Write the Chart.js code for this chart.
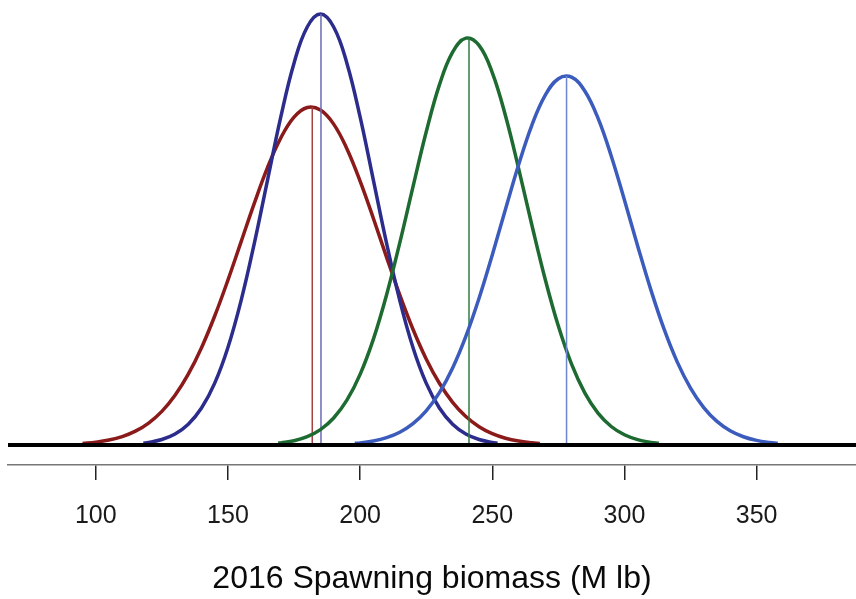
<!DOCTYPE html>
<html>
<head>
<meta charset="utf-8">
<script src="https://cdn.jsdelivr.net/npm/chart.js@4.4.1/dist/chart.umd.min.js"></script>
<style>
  html, body { margin: 0; padding: 0; background: #fff; }
  #wrap { width: 856px; height: 599px; position: relative; }
</style>
</head>
<body>
<div id="wrap"><canvas id="chart"></canvas></div>
<script>
// biomass (M lb) and density (x1000)
const redX = [95, 100, 105, 110, 115, 120, 125, 130, 135, 140, 145, 150, 155, 160, 165, 170, 175, 180, 185, 190, 195, 200, 205, 210, 215, 220, 225, 230, 235, 240, 245, 250, 255, 260, 265, 268];
const redY = [0.069, 0.127, 0.224, 0.383, 0.630, 1.001, 1.533, 2.267, 3.229, 4.437, 5.882, 7.520, 9.272, 11.03, 12.66, 14.00, 14.95, 15.39, 15.27, 14.63, 13.51, 12.03, 10.34, 8.566, 6.847, 5.278, 3.924, 2.814, 1.946, 1.299, 0.835, 0.518, 0.310, 0.179, 0.100, 0.069];

const navyX = [118, 120, 125, 130, 135, 140, 145, 150, 155, 160, 165, 170, 175, 180, 185, 190, 195, 200, 205, 210, 215, 220, 225, 230, 235, 240, 245, 250, 252];
const navyY = [0.085, 0.117, 0.249, 0.501, 0.946, 1.684, 2.820, 4.447, 6.595, 9.206, 12.09, 14.96, 17.41, 19.06, 19.65, 19.06, 17.41, 14.96, 12.09, 9.206, 6.595, 4.447, 2.820, 1.684, 0.946, 0.501, 0.249, 0.117, 0.085];

const greenX = [169, 170, 175, 180, 185, 190, 195, 200, 205, 210, 215, 220, 225, 230, 235, 240, 245, 250, 255, 260, 265, 270, 275, 280, 285, 290, 295, 300, 305, 310, 313];
const greenY = [0.082, 0.095, 0.195, 0.380, 0.701, 1.229, 2.042, 3.222, 4.816, 6.841, 9.213, 11.77, 14.27, 16.42, 17.91, 18.55, 18.22, 16.98, 15.01, 12.59, 10.02, 7.569, 5.421, 3.684, 2.376, 1.453, 0.844, 0.465, 0.243, 0.120, 0.077];

const blueX = [198, 200, 205, 210, 215, 220, 225, 230, 235, 240, 245, 250, 255, 260, 265, 270, 275, 280, 285, 290, 295, 300, 305, 310, 315, 320, 325, 330, 335, 340, 345, 350, 355, 358];
const blueY = [0.075, 0.097, 0.185, 0.336, 0.584, 0.975, 1.561, 2.391, 3.516, 4.955, 6.693, 8.667, 10.75, 12.79, 14.59, 15.94, 16.70, 16.77, 16.14, 14.90, 13.18, 11.17, 9.078, 7.072, 5.279, 3.778, 2.593, 1.705, 1.075, 0.649, 0.376, 0.209, 0.111, 0.075];

// medians (vertical lines) and the height they reach
const medianX = [181.9, 185.2, 241.2, 278.1];
const medianTop = [15.41, 19.65, 18.56, 16.83];

const tickVals = [100, 150, 200, 250, 300, 350];
const xTitle = "2016 Spawning biomass (M lb)";
const xMin = 66.8, xMax = 387.6;

const curveColors = ["#8b1a1a", "#2c2c8c", "#1d6b30", "#3b5cbc"];
const medianColors = ["#a84040", "#6a6ab4", "#2f7d42", "#6d86d0"];

const fontFam = "'Liberation Sans', Arial, sans-serif";

function pts(xs, ys) {
  return xs.map((x, i) => ({ x: x, y: ys[i] }));
}

function curveSet(xs, ys, i) {
  return {
    data: pts(xs, ys),
    borderColor: curveColors[i],
    borderWidth: 3.5,
    pointRadius: 0,
    tension: 0.4,
    fill: false,
    order: 10 - i * 2
  };
}

function medianSet(i) {
  return {
    data: [{ x: medianX[i], y: 0 }, { x: medianX[i], y: medianTop[i] }],
    borderColor: medianColors[i],
    borderWidth: 1.5,
    pointRadius: 0,
    fill: false,
    order: 9 - i * 2
  };
}

const datasets = [
  curveSet(redX, redY, 0), medianSet(0),
  curveSet(navyX, navyY, 1), medianSet(1),
  curveSet(greenX, greenY, 2), medianSet(2),
  curveSet(blueX, blueY, 3), medianSet(3),
  {
    data: [{ x: xMin, y: 0 }, { x: xMax, y: 0 }],
    borderColor: "#000",
    borderWidth: 4,
    pointRadius: 0,
    fill: false,
    order: 0
  }
];

const ctx = document.getElementById("chart").getContext("2d");
const chart = new Chart(ctx, {
  type: "line",
  data: { datasets: datasets },
  options: {
    responsive: true,
    maintainAspectRatio: false,
    animation: false,
    layout: { padding: { left: 8, right: 0, top: 0, bottom: 0 } },
    plugins: { legend: { display: false }, tooltip: { enabled: false } },
    scales: {
      x: {
        type: "linear",
        min: xMin,
        max: xMax,
        afterBuildTicks: (s) => { s.ticks = tickVals.map(v => ({ value: v })); },
        afterFit: (s) => { s.height = 134; },
        grid: { drawOnChartArea: false, drawTicks: true, tickLength: 15, color: "#222", lineWidth: 1.5 },
        border: { display: true, color: "#777", width: 1.5 },
        ticks: { color: "#1a1a1a", padding: 21, maxRotation: 0, font: { family: fontFam, size: 25 } },
        title: {
          display: true,
          text: xTitle,
          color: "#0a0a0a",
          font: { family: fontFam, size: 32 },
          padding: { top: 0, bottom: 1 }
        }
      },
      y: {
        type: "linear",
        display: false,
        min: -0.912,
        max: 20.29
      }
    }
  }
});
</script>
</body>
</html>
